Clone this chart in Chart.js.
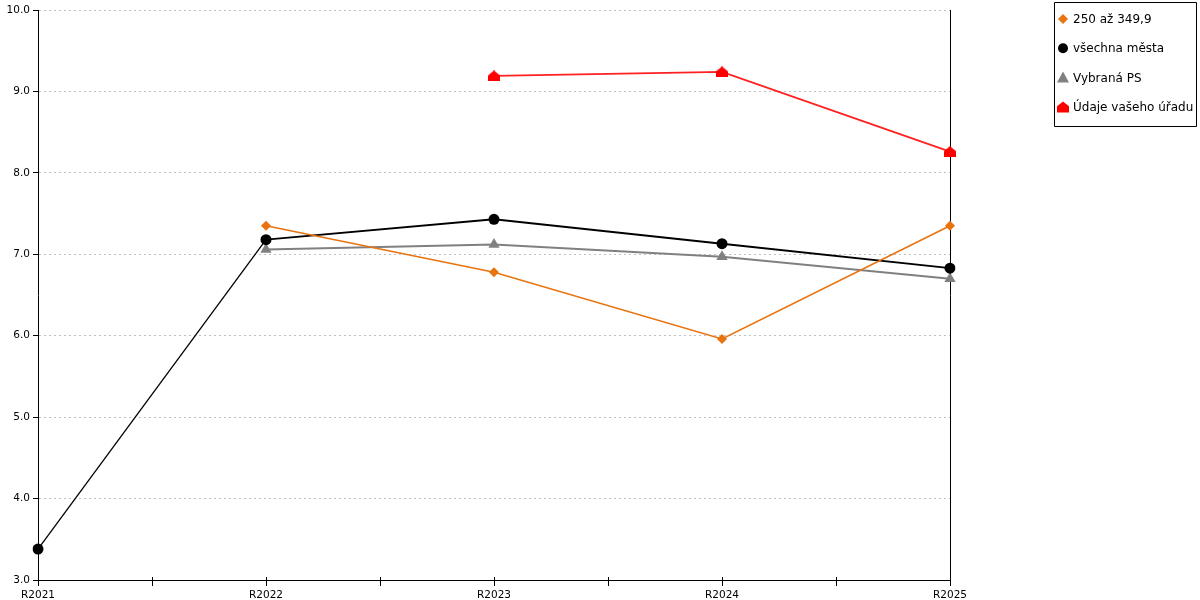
<!DOCTYPE html>
<html>
<head>
<meta charset="utf-8">
<script src="https://cdn.jsdelivr.net/npm/chart.js@4/dist/chart.umd.min.js"></script>
<style>
    html, body { margin: 0; padding: 0; background: #fff; }
    #wrap { position: relative; width: 1200px; height: 600px; }
</style>
</head>
<body>
<div id="wrap"><canvas id="myChart" width="1200" height="600"></canvas></div>
<script>
const labels = ['R2021', 'R2022', 'R2023', 'R2024', 'R2025'];
const skupina = [null, 7.35, 6.78, 5.96, 7.35];
const vsechnaMesta = [3.38, 7.18, 7.43, 7.13, 6.83];
const vybranaPS = [null, 7.06, 7.12, 6.97, 6.70];
const vasUrad = [null, null, 9.19, 9.24, 8.26];
const yTicks = [3, 4, 5, 6, 7, 8, 9, 10];

const seriesNames = ['250 až 349,9', 'všechna města', 'Vybraná PS', 'Údaje vašeho úřadu'];
const colors = ['#e8730f', '#000000', '#808080', '#ff0000'];

// red "house" marker
function houseShape(ctx, x, y, w, h) {
    ctx.beginPath();
    ctx.moveTo(x, y - h / 2);
    ctx.lineTo(x + w / 2, y - h / 2 + h * 0.45);
    ctx.lineTo(x + w / 2, y + h / 2);
    ctx.lineTo(x - w / 2, y + h / 2);
    ctx.lineTo(x - w / 2, y - h / 2 + h * 0.45);
    ctx.closePath();
    ctx.fill();
}
let houseImg = document.createElement('canvas');
houseImg.width = 12;
houseImg.height = 11;
let hctx = houseImg.getContext('2d');
hctx.fillStyle = colors[3];
houseShape(hctx, 6, 5.5, 12, 11);

function legendMarker(ctx, i, x, y) {
    ctx.fillStyle = colors[i];
    ctx.beginPath();
    if (i == 0) {
        ctx.moveTo(x, y - 5); ctx.lineTo(x + 5, y); ctx.lineTo(x, y + 5); ctx.lineTo(x - 5, y);
        ctx.closePath(); ctx.fill();
    } else if (i == 1) {
        ctx.arc(x, y, 5, 0, Math.PI * 2); ctx.fill();
    } else if (i == 2) {
        ctx.moveTo(x, y - 6); ctx.lineTo(x + 6, y + 5); ctx.lineTo(x - 6, y + 5);
        ctx.closePath(); ctx.fill();
    } else {
        houseShape(ctx, x, y, 12, 11);
    }
}

const extras = {
    id: 'extras',
    afterDraw(chart) {
        const ctx = chart.ctx;
        const xs = chart.scales.x;
        const bottom = chart.chartArea.bottom;
        ctx.save();
        ctx.strokeStyle = '#000';
        ctx.lineWidth = 1;
        // x axis ticks at categories and half-way
        for (let v = 0; v <= labels.length - 1; v += 0.5) {
            const px = Math.round(xs.getPixelForValue(v)) + 0.5;
            ctx.beginPath();
            ctx.moveTo(px, bottom - 3);
            ctx.lineTo(px, bottom + 6);
            ctx.stroke();
        }
        // legend box
        ctx.beginPath();
        ctx.rect(1054.5, 2.5, 142, 124);
        ctx.stroke();
        ctx.font = '12px "DejaVu Sans"';
        ctx.textBaseline = 'middle';
        ctx.textAlign = 'left';
        for (let i = 0; i < seriesNames.length; i++) {
            const y = 19 + i * 29.3;
            legendMarker(ctx, i, 1063, y);
            ctx.fillStyle = '#000';
            ctx.fillText(seriesNames[i], 1073, y + 1);
        }
        ctx.restore();
    }
};

let myChart = new Chart('myChart', {
    type: 'line',
    data: {
        labels: labels,
        datasets: [{
            label: seriesNames[0],
            data: skupina,
            borderColor: colors[0],
            backgroundColor: colors[0],
            borderWidth: 1.6,
            pointStyle: 'rectRot',
            pointRadius: 5,
            pointBorderWidth: 0
        },
        {
            label: seriesNames[1],
            data: vsechnaMesta,
            borderColor: colors[1],
            backgroundColor: colors[1],
            borderWidth: 2,
            segment: {
                borderWidth: c => c.p0DataIndex == 0 ? 1.3 : 2
            },
            pointStyle: 'circle',
            pointRadius: 5.5,
            pointBorderWidth: 0
        },
        {
            label: seriesNames[2],
            data: vybranaPS,
            borderColor: colors[2],
            backgroundColor: colors[2],
            borderWidth: 2,
            pointStyle: 'triangle',
            pointRadius: 6.5,
            pointBorderWidth: 0
        },
        {
            label: seriesNames[3],
            data: vasUrad,
            borderColor: '#ff2020',
            backgroundColor: colors[3],
            borderWidth: 1.8,
            pointStyle: houseImg,
            pointRadius: 6
        }]
    },
    options: {
        responsive: false,
        devicePixelRatio: 1,
        animation: false,
        events: [],
        layout: { padding: { top: 10, right: 250, left: 0, bottom: 0 } },
        plugins: {
            legend: { display: false },
            tooltip: { enabled: false }
        },
        scales: {
            x: {
                type: 'category',
                offset: false,
                grid: { display: false },
                border: { display: true, color: '#000', width: 1 },
                ticks: {
                    color: '#000',
                    font: { family: 'DejaVu Sans', size: 10.5 },
                    padding: 1,
                    maxRotation: 0,
                    autoSkip: false
                },
                afterFit: s => { s.height = 20; }
            },
            y: {
                min: 3,
                max: 10,
                afterBuildTicks: s => { s.ticks = yTicks.map(v => ({ value: v })); },
                grid: {
                    color: '#c0c0c0',
                    lineWidth: 1,
                    tickColor: '#000',
                    tickLength: 5,
                    tickBorderDash: []
                },
                border: { display: true, color: '#000', width: 1, dash: [2, 3] },
                ticks: {
                    color: '#000',
                    font: { family: 'DejaVu Sans', size: 10.5 },
                    padding: 3,
                    callback: v => v.toFixed(1)
                },
                afterFit: s => { s.width = 38; }
            },
            y2: {
                position: 'right',
                min: 3,
                max: 10,
                grid: { display: false },
                ticks: { display: false },
                border: { display: true, color: '#000', width: 1 },
                afterFit: s => { s.width = 0; }
            }
        }
    },
    plugins: [extras]
});
</script>
</body>
</html>
